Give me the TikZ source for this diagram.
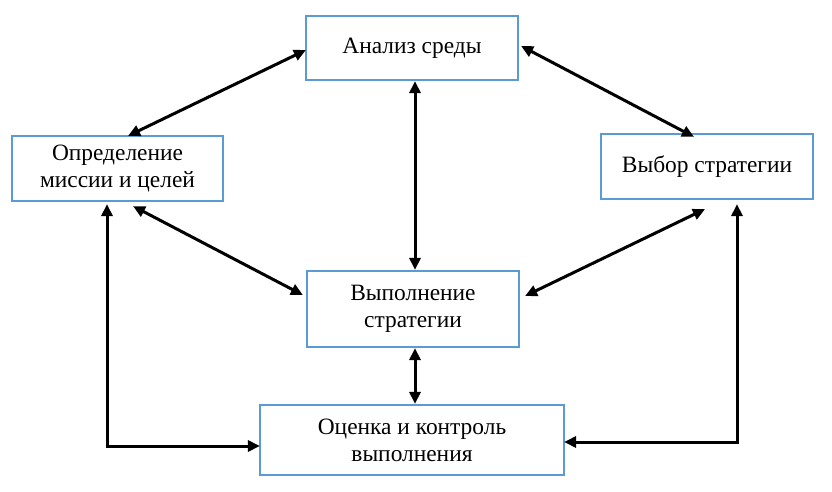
\documentclass[tikz,border=0pt]{standalone}
\usepackage{fontspec}
\setmainfont{Liberation Serif}
\usetikzlibrary{arrows.meta,calc}
\definecolor{boxblue}{RGB}{91,155,213}
\tikzset{
  blk/.style={draw=boxblue, line width=2.2pt, fill=white, align=center, inner sep=0pt,
    font=\fontsize{23.4}{27}\selectfont},
  conn/.style={line width=3pt, {Triangle[length=12pt,width=11pt]}-{Triangle[length=12pt,width=11pt]}}
}
\begin{document}
\begin{tikzpicture}[x=1pt,y=-1pt]
\useasboundingbox (0,0) rectangle (832,492);
\node[blk, minimum width=212pt, minimum height=64pt] (anal) at (412,48) {Анализ среды};
\node[blk, minimum width=211pt, minimum height=65pt] (opr) at (117.5,168.5) {Определение\\миссии и целей};
\node[blk, minimum width=212pt, minimum height=65pt] (vyb) at (707,166.5) {Выбор стратегии};
\node[blk, minimum width=212pt, minimum height=76pt] (vyp) at (413,309) {Выполнение\\стратегии};
\node[blk, minimum width=304pt, minimum height=70pt] (ocen) at (412,440) {Оценка и контроль\\выполнения};

\draw[conn] ($(anal.west)+(1,2)$) -- ($(opr.north)+(10.5,1)$);
\draw[conn] ($(anal.east)+(2,-2)$) -- ($(vyb.north)+(-13,4)$);
\draw[conn] ($(anal.south)+(3,0)$) -- ($(vyp.north)+(2,0)$);
\draw[conn] ($(opr.south)+(15.5,4)$) -- ($(vyp.west)+(-3,-14)$);
\draw[conn] ($(vyb.south)+(-2,9)$) -- ($(vyp.east)+(5,-13)$);
\draw[conn] ($(vyp.south)+(2,0)$) -- ($(ocen.north)+(3,0)$);
\draw[conn] ($(opr.south)+(-10.5,2)$) |- ($(ocen.west)+(1,6)$);
\draw[conn] ($(vyb.south)+(30,4)$) |- ($(ocen.east)+(-1,2)$);
\end{tikzpicture}
\end{document}
